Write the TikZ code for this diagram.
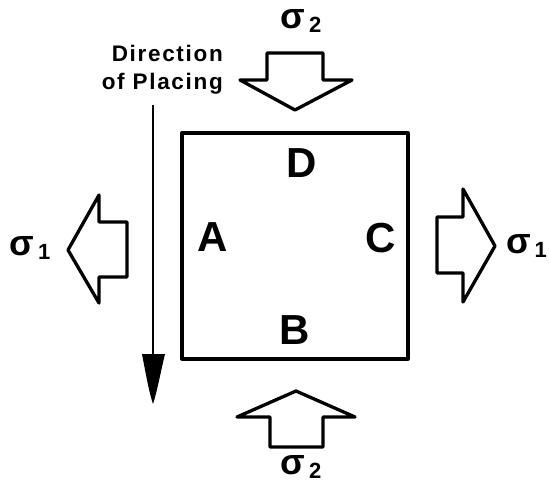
\documentclass[tikz,border=0pt]{standalone}
\usepackage{fontspec}
\setmainfont{Liberation Sans}
\newfontfamily\lblfont[LetterSpace=7.5]{Liberation Sans}
\begin{document}
\begin{tikzpicture}[x=1pt,y=-1pt,
  outl/.style={draw=black,line width=3.3pt,line join=round},
  letter/.style={font=\fontsize{42}{42}\selectfont\bfseries,inner sep=0pt},
  sig/.style={font=\fontsize{36}{36}\selectfont\bfseries,inner sep=0pt},
  dirtext/.style={font=\fontsize{22.5}{22.5}\lblfont\bfseries,inner sep=0pt,anchor=base east}]
\useasboundingbox (0,0) rectangle (549,490);
% square
\draw[outl] (182,133) rectangle (408,359);
\node[letter] (D) at (302,163) {D};
\node[letter] (A) at (213,237) {A};
\node[letter] (C) at (381,238) {C};
\node[letter] (B) at (295,330) {B};
% block arrows
\draw[outl] (267,53) -- (323,53) -- (323,80) -- (352,80) -- (295,110) -- (240,80) -- (267,80) -- cycle;
\draw[outl] (270,447) -- (323,447) -- (323,417) -- (355,417) -- (296,391) -- (237,417) -- (270,417) -- cycle;
\draw[outl] (127,222) -- (127,277) -- (99,277) -- (99,303) -- (68,250) -- (99,195) -- (99,222) -- cycle;
\draw[outl] (437,217) -- (437,273) -- (463,273) -- (463,302) -- (495,246) -- (463,189) -- (463,217) -- cycle;
% sigma labels
\node[sig] (s2t) at (301,21) {σ\raisebox{-4pt}{\fontsize{22}{22}\selectfont\,2}};
\node[sig] (s2b) at (301,467) {σ\raisebox{-4pt}{\fontsize{22}{22}\selectfont\,2}};
\node[sig] (s1l) at (30,248) {σ\raisebox{-4pt}{\fontsize{22}{22}\selectfont\,1}};
\node[sig,anchor=east] (s1r) at (547,246) {σ\raisebox{-4pt}{\fontsize{22}{22}\selectfont\,1}};
% direction of placing
\node[dirtext] (t1) at (223,61) {Direction};
\node[dirtext] (t2) at (223,89) {of Placing};
\coordinate (ds) at (153,105);
\coordinate (de) at (153,360);
\draw[line width=2.6pt] (ds) -- (de);
\fill (142,354) -- (165,354) .. controls (160,375) and (157,392) .. (153,404) .. controls (149,392) and (146,375) .. (142,354) -- cycle;
\end{tikzpicture}
\end{document}
